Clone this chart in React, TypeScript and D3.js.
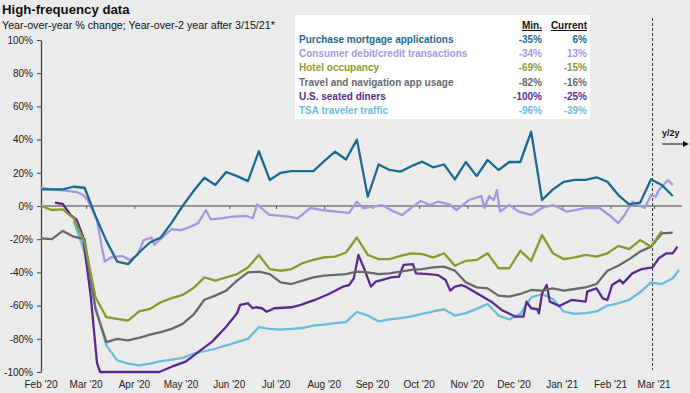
import { useEffect, useRef } from 'react';
import * as d3 from 'd3';

// weekly observation dates (last one is the latest daily reading)
const weeks = [
  '2020-02-01', '2020-02-08', '2020-02-15', '2020-02-22', '2020-02-29', '2020-03-07', '2020-03-14', '2020-03-21',
  '2020-03-28', '2020-04-04', '2020-04-11', '2020-04-18', '2020-04-25', '2020-05-02', '2020-05-09', '2020-05-16',
  '2020-05-23', '2020-05-30', '2020-06-06', '2020-06-13', '2020-06-20', '2020-06-27', '2020-07-04', '2020-07-11',
  '2020-07-18', '2020-07-25', '2020-08-01', '2020-08-08', '2020-08-15', '2020-08-22', '2020-08-29', '2020-09-05',
  '2020-09-12', '2020-09-19', '2020-09-26', '2020-10-03', '2020-10-10', '2020-10-17', '2020-10-24', '2020-10-31',
  '2020-11-07', '2020-11-14', '2020-11-21', '2020-11-28', '2020-12-05', '2020-12-12', '2020-12-19', '2020-12-26',
  '2021-01-02', '2021-01-09', '2021-01-16', '2021-01-23', '2021-01-30', '2021-02-06', '2021-02-13', '2021-02-20',
  '2021-02-27', '2021-03-06', '2021-03-13', '2021-03-17',
];

const mortgage = [10, 10, 10, 11.6, 11, -6, -21, -33.5, -35, -28, -22, -19, -10, 0, 9, 17, 12.7, 20.5, 18, 15,
  33, 15.7, 20, 21, 21, 21, 27, 32.7, 28, 40, 5.6, 25, 21.7, 20.7, 24, 26.7, 23.3, 25, 16, 26.5,
  18, 27.7, 21.7, 26.5, 26.5, 44.8, 3.6, 10, 14.6, 15.7, 15.7, 17.3, 14.6, 6.6, 1, 2, 16, 12.6, 6, null];
const hotel = [0, -2.4, -2, -7.4, -22, -55, -67, -68, -69, -63.5, -62, -58, -55.5, -53.6, -49.4, -43, -45, -43, -41, -37,
  -29.5, -38, -39, -38, -34.5, -32.5, -31, -30.5, -28, -19, -29.5, -32, -32, -30, -28.5, -29, -31, -28.5, -36, -33,
  -32.5, -28.5, -37.5, -37.5, -27, -33, -17.5, -28.5, -32, -31, -29.5, -30.5, -28.5, -24, -26, -20.5, -24.5, -15, null, null];
const travelApp = [-19.5, -20, -15, -18.5, -20, -62, -82, -80, -81, -79.5, -77.5, -76, -74, -71, -65.5, -56.5, -54, -51, -45, -40,
  -39.6, -41, -46, -47, -45, -43, -42, -41.5, -41, -39.5, -40, -41, -40.6, -39.5, -38.5, -38, -37, -36.5, -39, -46,
  -49, -49.6, -54, -54.6, -53, -50.6, -51, -49.6, -51, -50, -49, -47, -39, -36, -32, -27.5, -24.5, -16.5, -16, null];
const tsa = [null, null, null, -9, -28, -61, -84, -93, -95, -96, -95, -93.5, -92.5, -91.5, -89, -87.5, -86, -84, -82, -80,
  -73, -74, -74.5, -74, -73.5, -72, -71.5, -70.5, -70, -63.7, -66, -69.5, -68.3, -67.5, -66.5, -65, -63.5, -62.2, -66, -64.5,
  -62, -59, -66, -68.3, -65, -55, -53, -56, -63.7, -65, -64.5, -63.5, -60, -58.6, -56.5, -52, -46, -47, -43.5, -38.5];

// daily series, read at their turning points
const consumerDates = [
  '2020-02-01', '2020-02-07', '2020-02-13', '2020-02-19', '2020-02-24', '2020-02-28', '2020-03-02', '2020-03-08',
  '2020-03-11', '2020-03-13', '2020-03-17', '2020-03-24', '2020-03-29', '2020-04-03', '2020-04-07', '2020-04-12',
  '2020-04-14', '2020-04-17', '2020-04-25', '2020-05-01', '2020-05-07', '2020-05-12', '2020-05-17', '2020-05-20',
  '2020-05-27', '2020-06-03', '2020-06-12', '2020-06-16', '2020-06-19', '2020-06-25', '2020-06-27', '2020-07-04',
  '2020-07-09', '2020-07-15', '2020-07-23', '2020-07-30', '2020-08-09', '2020-08-17', '2020-08-22', '2020-08-26',
  '2020-09-02', '2020-09-07', '2020-09-15', '2020-09-20', '2020-09-27', '2020-10-02', '2020-10-08', '2020-10-13',
  '2020-10-20', '2020-10-25', '2020-11-02', '2020-11-10', '2020-11-12', '2020-11-15', '2020-11-18', '2020-11-20',
  '2020-11-22', '2020-11-28', '2020-12-04', '2020-12-12', '2020-12-19', '2020-12-26', '2021-01-04', '2021-01-10',
  '2021-01-16', '2021-01-25', '2021-01-31', '2021-02-06', '2021-02-10', '2021-02-15', '2021-02-21', '2021-02-23',
  '2021-02-27', '2021-03-02', '2021-03-04', '2021-03-10', '2021-03-13',
];
const consumer = [
  11, 10, 9.6, 9, 8.4, 6.6, 3.6, -8.4,
  -24.5, -33.5, -31, -30, -32.5, -29.5, -20.5, -19,
  -23.5, -20.5, -14, -14.5, -12.5, -10.3, -2.4, -8,
  -7.4, -6.4, -6, -7.4, 1, -4, -5.4, -6,
  -6.4, -7.4, -1.2, -2.4, -3.4, -4.2, 2.6, -1.2,
  -0.4, 0.6, -3.4, -5.4, -0.4, 3, 0.6, 2.6,
  1.2, -2.4, 3.6, 6, -1.2, 6, 3.6, 9.6,
  -3.4, 0.6, -3.4, -5.4, -1.2, 0.6, -3.4, -2.4,
  -1.2, -1.2, -5.4, -10.3, -5.4, 2.6, -0.4, -1.2,
  6.6, 5.6, 9.6, 15.7, 12.6,
];

const dinersDates = [
  '2020-02-10', '2020-02-15', '2020-02-20', '2020-02-24', '2020-02-28', '2020-03-04', '2020-03-08', '2020-03-10',
  '2020-04-17', '2020-04-25', '2020-05-04', '2020-05-12', '2020-05-21', '2020-05-30', '2020-06-06', '2020-06-08',
  '2020-06-13', '2020-06-16', '2020-06-18', '2020-06-22', '2020-06-25', '2020-06-30', '2020-07-11', '2020-07-17',
  '2020-07-26', '2020-08-04', '2020-08-13', '2020-08-17', '2020-08-20', '2020-08-23', '2020-08-27', '2020-08-31',
  '2020-09-03', '2020-09-07', '2020-09-13', '2020-09-18', '2020-09-21', '2020-09-27', '2020-09-29', '2020-10-07',
  '2020-10-13', '2020-10-18', '2020-10-21', '2020-10-24', '2020-10-28', '2020-10-31', '2020-11-09', '2020-11-17',
  '2020-11-23', '2020-12-02', '2020-12-07', '2020-12-09', '2020-12-12', '2020-12-16', '2020-12-17', '2020-12-19',
  '2020-12-22', '2020-12-24', '2020-12-30', '2021-01-07', '2021-01-16', '2021-01-17', '2021-01-23', '2021-01-27',
  '2021-01-30', '2021-02-02', '2021-02-07', '2021-02-09', '2021-02-15', '2021-02-21', '2021-02-28', '2021-03-04',
  '2021-03-09', '2021-03-13', '2021-03-16',
];
const diners = [
  2, 1.2, -5.4, -8.4, -18.5, -54.6, -94.6, -100,
  -100, -96.8, -93.8, -88, -81.7, -72.7, -64.6, -59.6,
  -58.6, -61.6, -61, -61.6, -63.7, -61.6, -61, -59.6,
  -56.6, -53, -48.6, -47.6, -43.6, -29.5, -38.5, -48.6,
  -45.6, -44.6, -43, -42.6, -35.5, -35, -40.6, -41,
  -41.6, -44.6, -51, -48.6, -47.6, -48.6, -53.6, -58,
  -62.6, -66.7, -66.7, -57.6, -61.6, -62.2, -64.6, -52.6,
  -47.6, -57.6, -60.2, -56.6, -57.6, -51.6, -49.6, -55.6,
  -56.6, -47.6, -44.6, -46.6, -40.6, -38, -37, -31.5,
  -28.5, -28.5, -24.5,
];

const seriesNames = [
  'Purchase mortgage applications',
  'Consumer debit/credit transactions',
  'Hotel occupancy',
  'Travel and navigation app usage',
  'U.S. seated diners',
  'TSA traveler traffic',
];
const minLabels = ['-35%', '-34%', '-69%', '-82%', '-100%', '-96%'];
const currentLabels = ['6%', '13%', '-15%', '-16%', '-25%', '-39%'];
const colors = ['#1b6a8f', '#a797e0', '#8a9a2e', '#696969', '#5a2b8e', '#6dbcd9'];

const yTicks = [100, 80, 60, 40, 20, 0, -20, -40, -60, -80, -100];
const monthTicks = [
  '2020-02-01', '2020-03-01', '2020-04-01', '2020-05-01', '2020-06-01', '2020-07-01', '2020-08-01',
  '2020-09-01', '2020-10-01', '2020-11-01', '2020-12-01', '2021-01-01', '2021-02-01', '2021-03-01',
];
const switchDate = '2021-02-28';

const FONT = '"Liberation Sans", Arial, sans-serif';

const App = () => {
  const ref = useRef<SVGSVGElement>(null);

  useEffect(() => {
    const width = 690;
    const height = 393;
    const svg = d3.select(ref.current);
    svg.selectAll('*').remove();

    const parse = d3.timeParse('%Y-%m-%d');
    const dates = weeks.map(d => parse(d) as Date);

    const x = d3.scaleTime()
      .domain([dates[0], dates[dates.length - 1]])
      .range([41, 679]);
    const y = d3.scaleLinear()
      .domain([-100, 100])
      .range([372, 40]);

    svg.append('rect')
      .attr('width', width)
      .attr('height', height)
      .attr('fill', '#ebebeb');

    // title
    svg.append('text')
      .attr('x', 2).attr('y', 14)
      .attr('font-size', 13.2).attr('font-weight', 'bold')
      .attr('fill', '#111')
      .text('High-frequency data');
    svg.append('text')
      .attr('x', 2).attr('y', 29)
      .attr('font-size', 10.7)
      .attr('fill', '#111')
      .text('Year-over-year % change; Year-over-2 year after 3/15/21*');

    // y axis
    const yAxis = svg.append('g')
      .attr('transform', `translate(${x(dates[0])}, 0)`)
      .call(d3.axisLeft(y)
        .tickValues(yTicks)
        .tickSize(4)
        .tickSizeOuter(0)
        .tickPadding(4)
        .tickFormat(d => `${d}%`));
    yAxis.select('.domain').attr('stroke', '#444').attr('stroke-width', 1.3);
    yAxis.selectAll('line').attr('stroke', '#444');
    yAxis.selectAll('text')
      .attr('font-family', FONT)
      .attr('font-size', 10)
      .attr('fill', '#222');

    // zero line with month ticks
    svg.append('line')
      .attr('x1', x(dates[0])).attr('x2', 682)
      .attr('y1', y(0)).attr('y2', y(0))
      .attr('stroke', '#7a7a7a').attr('stroke-width', 1.5);

    const months = monthTicks.map(d => parse(d) as Date);
    const xAxis = svg.append('g')
      .attr('transform', `translate(0, ${y(0)})`)
      .call(d3.axisBottom(x)
        .tickValues(months.slice(1))
        .tickSize(3)
        .tickSizeOuter(0)
        .tickFormat(() => ''));
    xAxis.select('.domain').remove();
    xAxis.selectAll('line').attr('stroke', '#555').attr('stroke-width', 1);

    svg.append('g')
      .selectAll('text')
      .data(months)
      .enter()
      .append('text')
      .attr('x', d => x(d))
      .attr('y', 388)
      .attr('text-anchor', 'middle')
      .attr('font-size', 10)
      .attr('fill', '#222')
      .text(d => d3.timeFormat("%b '%y")(d));

    // y/2y switch marker
    const sx = x(parse(switchDate) as Date);
    svg.append('line')
      .attr('x1', sx).attr('x2', sx)
      .attr('y1', 18).attr('y2', 370)
      .attr('stroke', '#333').attr('stroke-width', 1)
      .attr('stroke-dasharray', '3,2');
    svg.append('text')
      .attr('x', 662).attr('y', 136)
      .attr('font-size', 9).attr('font-weight', 'bold')
      .attr('fill', '#111')
      .text('y/2y');
    svg.append('line')
      .attr('x1', 662).attr('x2', 683)
      .attr('y1', 144).attr('y2', 144)
      .attr('stroke', '#111').attr('stroke-width', 1);
    svg.append('path')
      .attr('d', 'M683,141 L689,144 L683,147 Z')
      .attr('fill', '#111');

    // lines
    const toPoints = (ds: string[], vs: (number | null)[]) =>
      vs.map((v, i) => ({ date: parse(ds[i]) as Date, value: v }));
    const series = [
      toPoints(weeks, mortgage),
      toPoints(consumerDates, consumer),
      toPoints(weeks, hotel),
      toPoints(weeks, travelApp),
      toPoints(dinersDates, diners),
      toPoints(weeks, tsa),
    ];
    const line = d3.line<{ date: Date; value: number | null }>()
      .defined(d => d.value != null)
      .x(d => x(d.date))
      .y(d => y(d.value as number));

    const order = [5, 4, 3, 2, 1, 0];
    svg.append('g')
      .selectAll('path')
      .data(order)
      .enter()
      .append('path')
      .attr('d', k => line(series[k]))
      .attr('fill', 'none')
      .attr('stroke', k => colors[k])
      .attr('stroke-width', 2.3)
      .attr('stroke-linejoin', 'round');

    // legend table
    const legend = svg.append('g');
    legend.append('rect')
      .attr('x', 295).attr('y', 15)
      .attr('width', 295).attr('height', 104)
      .attr('fill', '#ffffff');
    legend.append('text')
      .attr('x', 542).attr('y', 29)
      .attr('text-anchor', 'end')
      .attr('font-size', 10).attr('font-weight', 'bold')
      .attr('text-decoration', 'underline')
      .attr('fill', '#111')
      .text('Min.');
    legend.append('text')
      .attr('x', 587).attr('y', 29)
      .attr('text-anchor', 'end')
      .attr('font-size', 10).attr('font-weight', 'bold')
      .attr('text-decoration', 'underline')
      .attr('fill', '#111')
      .text('Current');

    const rows = legend.selectAll('g.row')
      .data(seriesNames)
      .enter()
      .append('g')
      .attr('class', 'row')
      .attr('transform', (_, i) => `translate(0, ${43 + i * 14.2})`)
      .attr('font-size', 10)
      .attr('font-weight', 'bold')
      .attr('fill', (_, i) => colors[i]);
    rows.append('text')
      .attr('x', 299)
      .text(d => d);
    rows.append('text')
      .attr('x', 542)
      .attr('text-anchor', 'end')
      .text((_, i) => minLabels[i]);
    rows.append('text')
      .attr('x', 587)
      .attr('text-anchor', 'end')
      .text((_, i) => currentLabels[i]);
  }, []);

  return (
    <svg
      ref={ref}
      width={690}
      height={393}
      style={{ position: 'absolute', left: 0, top: 0, fontFamily: FONT }}
    />
  );
};

export default App;
